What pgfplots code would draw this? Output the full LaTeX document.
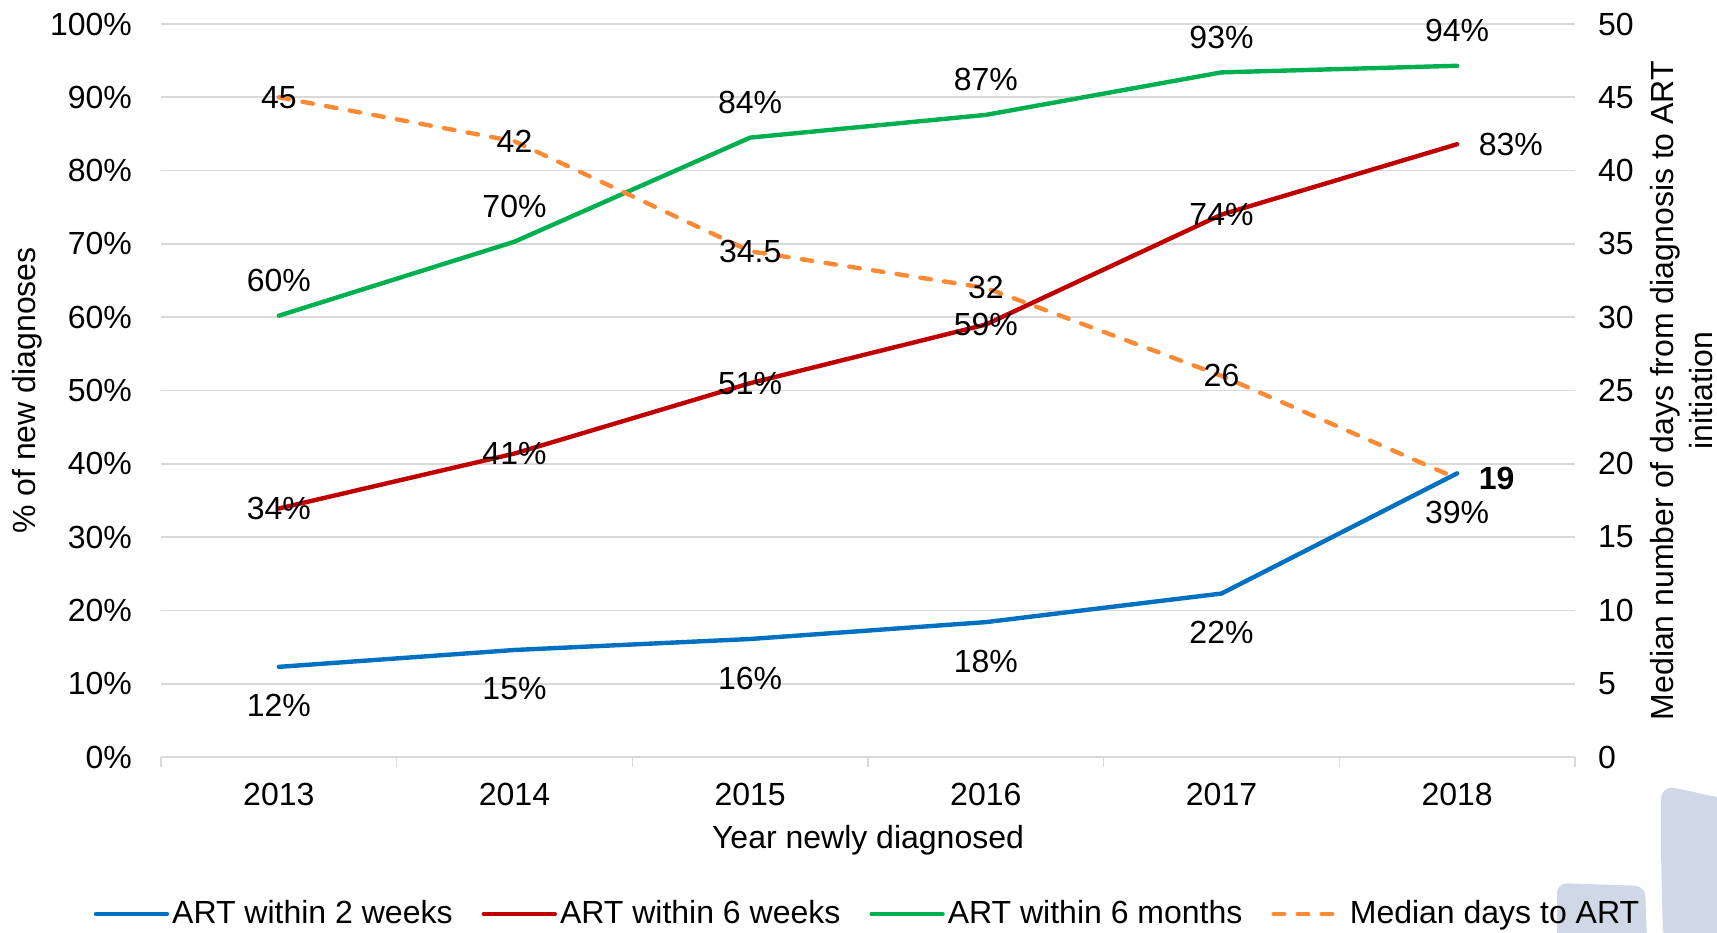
\documentclass[border=0pt]{standalone}
\usepackage{fontspec}
\setmainfont{Liberation Sans}
\usepackage{pgfplots}
\usepackage{pgfplotstable}
\pgfplotsset{compat=1.18}
\pgfdeclarelayer{background}
\pgfsetlayers{background,main}

\definecolor{artblue}{HTML}{0070C0}
\definecolor{artred}{HTML}{C00000}
\definecolor{artgreen}{HTML}{00B050}
\definecolor{artorange}{HTML}{FA8A36}
\definecolor{gridgray}{HTML}{D9D9D9}
\definecolor{logoblue}{HTML}{D0D7E6}

% year, value, label text, label shift (pt)
\pgfplotstableread{
year val  lbl dx   dy
2013 12.3 12  0    -19.5
2014 14.6 15  0    -19.5
2015 16.1 16  0    -19.5
2016 18.4 18  0    -19.5
2017 22.3 22  0    -19.5
2018 38.7 39  0    -19.5
}\twoweeks
\pgfplotstableread{
year val  lbl dx   dy
2013 33.9 34  0    0
2014 41.4 41  0    0
2015 51.0 51  0    0
2016 59.0 59  0    0
2017 74.0 74  0    0
2018 83.6 83  26.8 0
}\sixweeks
\pgfplotstableread{
year val  lbl dx   dy
2013 60.2 60  0    17.5
2014 70.3 70  0    17.5
2015 84.5 84  0    17.5
2016 87.6 87  0    17.5
2017 93.4 93  0    17.5
2018 94.3 94  0    17.5
}\sixmonths
\pgfplotstableread{
year val  lbl         dx   dy
2013 45   45          0    0
2014 42   42          0    0
2015 34.5 34.5        0    0
2016 32   32          0    0
2017 26   26          0    0
2018 19   \textbf{19} 19.7 0
}\mediandays

\pgfplotsset{
  labelled/.style={
    line width=2.2pt, line cap=round,
    point meta=explicit symbolic,
    visualization depends on={\thisrow{dx}\as\labdx},
    visualization depends on={\thisrow{dy}\as\labdy},
    every node near coord/.append style={anchor=center, text=black,
      xshift=\labdx pt, yshift=\labdy pt, solid},
  },
  pct/.style={labelled, nodes near coords={\pgfplotspointmeta\%}},
  days/.style={labelled, nodes near coords={\pgfplotspointmeta}},
  medstyle/.style={artorange, line width=2.2pt, line cap=round, dash pattern=on 5.3pt off 6.7pt},
}

\begin{document}
\fontsize{16}{19.5}\selectfont
\begin{tikzpicture}[font=\fontsize{16}{19.5}\selectfont]
\begin{axis}[
  name=main,
  scale only axis, width=707pt, height=366.5pt,
  xmin=2012.5, xmax=2018.5, ymin=0, ymax=100,
  clip=false,
  axis line style={draw=none},
  tick pos=left, tick align=outside,
  xtick={2013,2014,2015,2016,2017,2018},
  xticklabels={2013,2014,2015,2016,2017,2018},
  minor xtick={2012.5,2013.5,2014.5,2015.5,2016.5,2017.5,2018.5},
  major tick length=0pt, minor tick length=5pt,
  minor tick style={gridgray, line width=0.8pt},
  ytick={0,10,...,100},
  yticklabel={\pgfmathprintnumber{\tick}\%},
  /pgf/number format/assume math mode=true,
  yticklabel style={xshift=-9pt},
  xticklabel style={anchor=center, yshift=-18.5pt},
  ymajorgrids, grid style={gridgray, line width=0.8pt},
  xlabel={Year newly diagnosed},
  xlabel style={at={(axis description cs:0.5,0)}, anchor=center, yshift=-41.5pt},
  ylabel={\% of new diagnoses},
  ylabel style={at={(axis description cs:0,0.5)}, anchor=center, yshift=67pt},
  legend columns=-1,
  legend style={at={(0.5,-0.2142)}, anchor=center, draw=none, fill=none,
    nodes={inner sep=1.5pt},
    /tikz/every even column/.append style={column sep=13pt}},
  legend image code/.code={\draw[#1] (0pt,0pt) -- (35.5pt,0pt);},
]
\addplot[artblue, pct] table[x=year, y=val, meta=lbl] {\twoweeks};
\addplot[artred, pct] table[x=year, y=val, meta=lbl] {\sixweeks};
\addplot[artgreen, pct] table[x=year, y=val, meta=lbl] {\sixmonths};
\addlegendimage{medstyle}
\legend{ART within 2 weeks, ART within 6 weeks, ART within 6 months, Median days to ART}
\end{axis}
\begin{axis}[
  scale only axis, width=707pt, height=366.5pt,
  xmin=2012.5, xmax=2018.5, ymin=0, ymax=50,
  clip=false,
  hide x axis,
  axis y line*=right, y axis line style={draw=none},
  ytick={0,5,...,50}, major tick length=0pt,
  /pgf/number format/assume math mode=true,
  yticklabel style={xshift=6pt},
  ylabel={Median number of days from diagnosis to ART\\initiation},
  ylabel style={at={(axis description cs:1,0.5)}, anchor=center,
    yshift=-53.5pt, align=center},
]
\addplot[medstyle, days] table[x=year, y=val, meta=lbl] {\mediandays};
\end{axis}
\coordinate (O) at ([shift={(-80.5pt,-87.5pt)}]main.south west);
\pgfresetboundingbox
\path[use as bounding box] (O) rectangle ([shift={(71pt,12pt)}]main.north east);
\begin{pgfonlayer}{background}
\begin{scope}[shift={(O)}]
  \fill[logoblue, rounded corners=7pt] (831.5pt,-5pt) -- (830.5pt,40pt) -- (830.5pt,73.5pt) -- (870pt,65pt) |- cycle;
  \fill[logoblue, rounded corners=5pt] (778.5pt,-5pt) -- (778.5pt,24.5pt) -- (822.5pt,23pt) -- (823.5pt,-5pt) -- cycle;
\end{scope}
\end{pgfonlayer}
\end{tikzpicture}
\end{document}
